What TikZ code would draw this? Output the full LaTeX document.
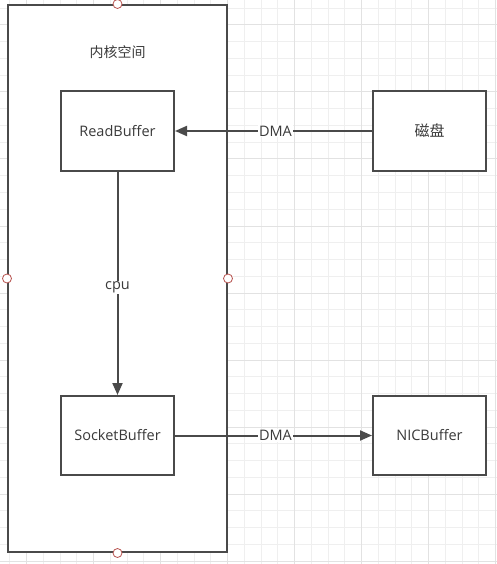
\documentclass[tikz,border=0pt]{standalone}
\usepackage{fontspec}
\setmainfont{Open Sans}
\newfontfamily\cjk{Noto Sans CJK SC}
\usetikzlibrary{arrows.meta}
\definecolor{gridminor}{HTML}{EFEFEF}
\definecolor{gridmajor}{HTML}{E2E2E2}
\definecolor{edge}{HTML}{4A4A4A}
\definecolor{txt}{HTML}{3A3A3A}
\definecolor{handle}{HTML}{B85450}
\tikzset{
  bufbox/.style={draw=edge, line width=2pt, fill=white, minimum width=113pt, minimum height=79pt, inner sep=0pt, text=txt, font=\fontsize{14.5}{16}\selectfont},
  kernelbox/.style={draw=edge, line width=2pt, fill=white, minimum width=219pt, minimum height=547pt, inner sep=0pt},
  conn/.style={draw=edge, line width=2pt, -{Triangle[length=12pt,width=10pt]}},
  connlabel/.style={fill=white, inner sep=1pt, text=txt, font=\fontsize{14.5}{16}\selectfont},
  handledot/.style={circle, draw=handle, line width=0.8pt, fill=white, minimum size=9pt, inner sep=0pt},
}
\begin{document}
\begin{tikzpicture}[x=1pt,y=-1pt]
\useasboundingbox (0,0) rectangle (497,564);
\fill[white] (0,0) rectangle (497,564);
% grid
\foreach \k in {-1,...,28} {
  \draw[gridminor, line width=1pt] ({26.5+16.75*\k},0) -- ({26.5+16.75*\k},564);
}
\foreach \k in {-1,...,33} {
  \draw[gridminor, line width=1pt] (0,{25+16.75*\k}) -- (497,{25+16.75*\k});
}
\foreach \k in {0,...,7} {
  \draw[gridmajor, line width=1pt] ({26.5+67*\k},0) -- ({26.5+67*\k},564);
}
\foreach \k in {-1,...,8} {
  \draw[gridmajor, line width=1pt] (0,{25+67*\k}) -- (497,{25+67*\k});
}
% kernel space
\node[kernelbox] (kernel) at (117.5,278.5) {};
\node[text=txt, font=\cjk\fontsize{14}{16}\selectfont] (kerneltitle) at (117.5,52) {内核空间};
% boxes
\node[bufbox] (rb) at (117.5,131) {ReadBuffer};
\node[bufbox] (sb) at (117.5,435.5) {SocketBuffer};
\node[bufbox, font=\cjk\fontsize{15}{17}\selectfont] (disk) at (429.5,131) {磁盘};
\node[bufbox] (nic) at (429.5,435.5) {NICBuffer};
% connectors
\draw[conn] (disk) -- (rb) node[connlabel, pos=0.49] (l1) {DMA};
\draw[conn] (rb) -- (sb) node[connlabel, pos=0.52] (l2) {cpu};
\draw[conn] (sb) -- (nic) node[connlabel, pos=0.51] (l3) {DMA};
% handles
\node[handledot] (hn) at (kernel.north) {};
\node[handledot] (hs) at (kernel.south) {};
\node[handledot] (he) at (kernel.east) {};
\node[handledot] (hw) at (kernel.west) {};
\end{tikzpicture}
\end{document}
